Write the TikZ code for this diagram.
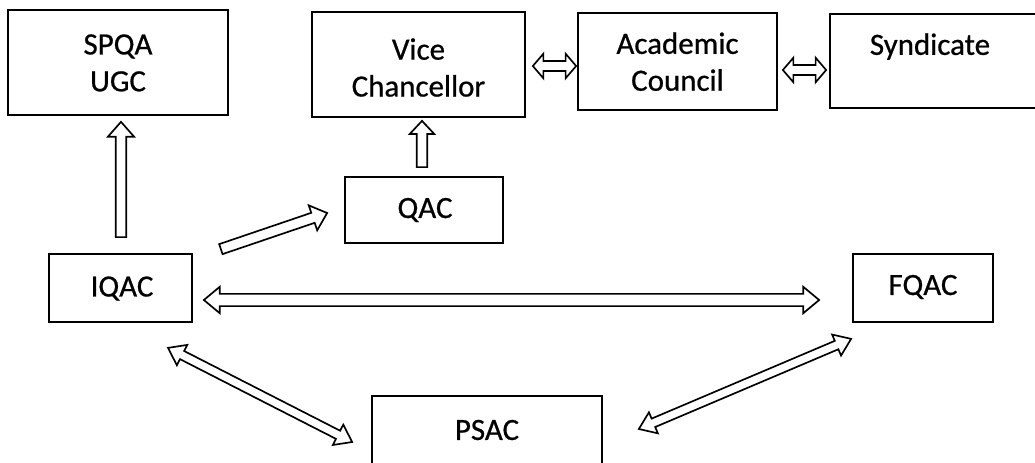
\documentclass[tikz,border=0pt]{standalone}
\usepackage{fontspec}
\setmainfont{Carlito}
\newfontfamily\lblfont{Carlito}[FakeBold=0.7]
\usetikzlibrary{calc}
\def\bs{3pt}\def\bh{7.5pt}\def\bl{8.5pt}
\tikzset{
  box/.style={draw, line width=1pt, inner sep=0pt},
  lbl/.style={font=\lblfont\fontsize{17.6}{21}\selectfont, align=center, inner sep=0pt},
  adims/.code args={#1/#2/#3}{\def\bs{#1}\def\bh{#2}\def\bl{#3}},
  sarr/.style={fill=white, line width=0.95pt, to path={
    let \p1=(\tikztostart), \p2=(\tikztotarget),
        \n1={atan2(\y2-\y1,\x2-\x1)}, \n2={veclen(\x2-\x1,\y2-\y1)-\bl} in
    ($(\p1)+(\n1+90:\bs)$) -- ($(\p1)+(\n1:\n2)+(\n1+90:\bs)$)
    -- ($(\p1)+(\n1:\n2)+(\n1+90:\bh)$) -- (\p2)
    -- ($(\p1)+(\n1:\n2)+(\n1-90:\bh)$) -- ($(\p1)+(\n1:\n2)+(\n1-90:\bs)$)
    -- ($(\p1)+(\n1-90:\bs)$) -- cycle}},
  darr/.style={fill=white, line width=0.95pt, to path={
    let \p1=(\tikztostart), \p2=(\tikztotarget),
        \n1={atan2(\y2-\y1,\x2-\x1)}, \n2={veclen(\x2-\x1,\y2-\y1)-\bl} in
    ($(\p1)+(\n1:\bl)+(\n1+90:\bs)$) -- ($(\p1)+(\n1:\n2)+(\n1+90:\bs)$)
    -- ($(\p1)+(\n1:\n2)+(\n1+90:\bh)$) -- (\p2)
    -- ($(\p1)+(\n1:\n2)+(\n1-90:\bh)$) -- ($(\p1)+(\n1:\n2)+(\n1-90:\bs)$)
    -- ($(\p1)+(\n1:\bl)+(\n1-90:\bs)$) -- ($(\p1)+(\n1:\bl)+(\n1-90:\bh)$)
    -- (\p1) -- ($(\p1)+(\n1:\bl)+(\n1+90:\bh)$) -- cycle}},
}
\begin{document}
\begin{tikzpicture}[x=0.02cm, y=-0.02cm]
\useasboundingbox (0,0) rectangle (1035,463);
% boxes
\node[box, minimum width=4.40cm, minimum height=2.10cm] (spqa) at (118,62.5) {};
\node[box, minimum width=4.26cm, minimum height=2.10cm] (vc) at (418.5,64.5) {};
\node[box, minimum width=3.98cm, minimum height=1.94cm] (ac) at (677.5,61.5) {};
\node[box, minimum width=4.30cm, minimum height=1.88cm] (syn) at (937.5,61) {};
\node[box, minimum width=3.16cm, minimum height=1.32cm] (qac) at (424,210) {};
\node[box, minimum width=2.86cm, minimum height=1.36cm] (iqac) at (120.5,288) {};
\node[box, minimum width=2.80cm, minimum height=1.36cm] (fqac) at (923,288) {};
\node[box, minimum width=4.60cm, minimum height=1.68cm] (psac) at (487,438) {};
% labels
\node[lbl, anchor=north] (tspqa) at (118,34) {SPQA\\UGC};
\node[lbl, anchor=north] (tvc) at (418.5,38) {Vice\\Chancellor};
\node[lbl, anchor=north] (tac) at (677.5,32) {Academic\\Council};
\node[lbl, anchor=north] (tsyn) at (930,33) {Syndicate};
\node[lbl] (tqac) at (425,210) {QAC};
\node[lbl] (tiqac) at (122,288.5) {IQAC};
\node[lbl] (tfqac) at (923,287) {FQAC};
\node[lbl] (tpsac) at (487,430) {PSAC};
% arrows
\draw[sarr] ($(iqac.north)+(0.5,-16)$) to ($(iqac.north |- spqa.south)+(0.5,6)$);
\draw[sarr, adims=3pt/7pt/7.5pt] ($(qac.north)+(-2,-9)$) to ($(qac.north |- vc.south)+(-2,3)$);
\draw[sarr] ($(iqac.north east)+(28,-4)$) to ($(qac.west)+(-17,3)$);
\draw[darr, adims=2.8pt/7pt/6pt] ($(vc.east)+(7,1.5)$) to ($(ac.west)+(-1,4.5)$);
\draw[darr, adims=2.8pt/7pt/6pt] ($(ac.east)+(5,8.5)$) to ($(syn.west)+(-3,9)$);
\draw[darr, adims=3.5pt/7.5pt/9pt] ($(iqac.east)+(11,12)$) to ($(fqac.west)+(-33,12)$);
\draw[darr, adims=2.6pt/6.5pt/9pt] ($(iqac.south)+(47.5,25)$) to ($(psac.west)+(-19,4)$);
\draw[darr, adims=2.6pt/6.5pt/9pt] ($(psac.east)+(36,-9)$) to ($(fqac.south west)+(-1,16)$);
\end{tikzpicture}
\end{document}
